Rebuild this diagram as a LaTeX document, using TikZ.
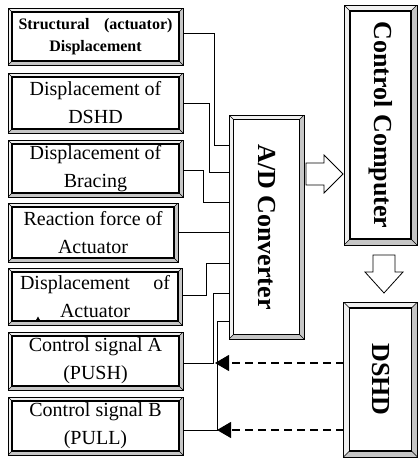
\documentclass[tikz,border=0pt]{standalone}
\usepackage{fontspec}
\setmainfont{Liberation Serif}
\usetikzlibrary{arrows.meta,calc}
\tikzset{
  bevel/.style={draw=black, line width=0.6pt, fill=white, inner sep=0pt, outer sep=0pt,
    path picture={
      \coordinate (NW) at (path picture bounding box.north west);
      \coordinate (NE) at (path picture bounding box.north east);
      \coordinate (SE) at (path picture bounding box.south east);
      \coordinate (SW) at (path picture bounding box.south west);
      \coordinate (nw) at ([shift={(#1,-#1)}]NW);
      \coordinate (ne) at ([shift={(-#1,-#1)}]NE);
      \coordinate (se) at ([shift={(-#1,#1)}]SE);
      \coordinate (sw) at ([shift={(#1,#1)}]SW);
      \fill[gray!12] (NW) -- (NE) -- (ne) -- (nw) -- (sw) -- (SW) -- cycle;
      \fill[gray!45] (NE) -- (SE) -- (SW) -- (sw) -- (se) -- (ne) -- cycle;
      \draw[line width=1.2pt] (nw) rectangle (se);
      \draw[line width=0.4pt] (NW) -- (nw) (NE) -- (ne) (SE) -- (se) (SW) -- (sw);
    }},
  lbox/.style={bevel=4pt, align=center, font=\fontsize{20}{28}\selectfont},
  bbox/.style={bevel=6pt, font=\fontsize{26}{30}\selectfont\bfseries},
  conn/.style={line width=0.9pt},
  sig/.style={line width=1.1pt, dash pattern=on 8pt off 5pt, -{Triangle[length=14pt,width=16pt]}},
  hollow/.style={draw=black, line width=0.8pt, fill=white, line join=miter}
}
\begin{document}
\begin{tikzpicture}[x=1pt,y=-1pt]
\useasboundingbox (0,0) rectangle (418,458);
% left boxes
\node[lbox, minimum width=175pt, minimum height=57pt, font=\fontsize{16}{22}\selectfont\bfseries] (b1) at (95.5,36.5)
  {\makebox[154pt]{Structural\hfill(actuator)}\\Displacement};
\node[lbox, minimum width=175pt, minimum height=60pt] (b2) at (95.5,103) {Displacement of\\DSHD};
\node[lbox, minimum width=175pt, minimum height=57pt] (b3) at (95.5,168.5) {Displacement of\\Bracing};
\node[lbox, minimum width=170pt, minimum height=59pt] (b4) at (93,232.5) {Reaction force of\\Actuator};
\node[lbox, minimum width=174pt, minimum height=57pt] (b5) at (95,296.5) {\makebox[150pt]{Displacement\hfill of}\\Actuator};
\node[lbox, minimum width=175pt, minimum height=58pt] (b6) at (95.5,361) {Control signal A\\(PUSH)};
\node[lbox, minimum width=175pt, minimum height=58pt] (b7) at (95.5,426) {Control signal B\\(PULL)};
% right boxes
\node[bevel=4.5pt, minimum width=75pt, minimum height=224pt, font=\fontsize{26}{30}\selectfont\bfseries] (ad) at (266.5,227)
  {\rotatebox{-90}{A/D Converter}};
\node[bbox, minimum width=73pt, minimum height=240pt] (cc) at (380.5,125) {\rotatebox{-90}{Control Computer}};
\node[bbox, minimum width=74pt, minimum height=155pt] (ds) at (380.5,379.5) {\rotatebox{-90}{DSHD}};
% small mark
\fill (35.5,321) -- (40.5,321) -- (38,316.5) -- cycle;
% connectors to A/D
\coordinate (k1) at (214,145);
\draw[conn] ([yshift=3.5pt]b1.east) -| (k1) -- (k1 -| ad.west);
\coordinate (k2) at (209,172);
\draw[conn] (b2.east) -| (k2) -- (k2 -| ad.west);
\coordinate (k3) at (203,202);
\draw[conn] ([yshift=-1.5pt]b3.east) -| (k3) -- (k3 -| ad.west);
\draw[conn] (b4.east) -- (b4.east -| ad.west);
\coordinate (k5) at (206,263);
\draw[conn] ([yshift=1.5pt]b5.east) -| (k5) -- (k5 -| ad.west);
\coordinate (j6) at (213,363);
\coordinate (k6) at (213,293);
\draw[conn] ([yshift=-2pt]b6.east) -- (j6) -- (k6) -- (k6 -| ad.west);
\coordinate (j7) at (217,430);
\coordinate (k7) at (217,321);
\draw[conn] ([yshift=-4pt]b7.east) -- (j7) -- (k7) -- (k7 -| ad.west);
% control signals from DSHD
\draw[sig] (j6 -| ds.west) -- ([xshift=2pt]j6);
\draw[sig] (j7 -| ds.west) -- (j7);
% hollow arrows
\draw[hollow] (306,163) -- (324,163) -- (324,155) -- (343,174) -- (324,193) -- (324,185) -- (306,185) -- cycle;
\draw[hollow] (373,255) -- (395,255) -- (395,272) -- (403,272) -- (384,293) -- (365,272) -- (373,272) -- cycle;
\end{tikzpicture}
\end{document}
